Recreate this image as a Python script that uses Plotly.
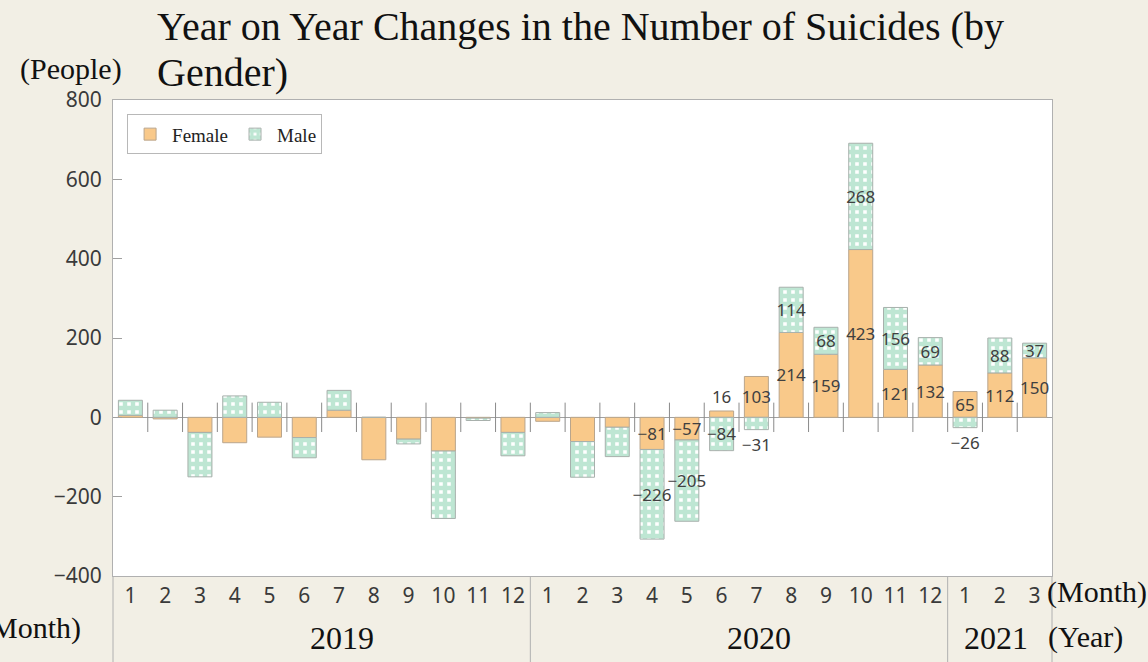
import plotly.graph_objects as go

# ---- data ----
months = [1, 2, 3, 4, 5, 6, 7, 8, 9, 10, 11, 12,
          1, 2, 3, 4, 5, 6, 7, 8, 9, 10, 11, 12,
          1, 2, 3]
years = ["2019"] * 12 + ["2020"] * 12 + ["2021"] * 3
female = [5, -4, -38, -64, -50, -51, 18, -107, -55, -85, -2, -38,
          -10, -61, -25, -81, -57, 16, 103, 214, 159, 423, 121, 132,
          65, 112, 150]
male = [38, 18, -112, 54, 38, -51, 50, 0, -12, -170, -6, -59,
        12, -90, -74, -226, -205, -84, -31, 114, 68, 268, 156, 69,
        -26, 88, 37]
first_labeled = 15  # labels shown from April 2020 onward
y_ticks = [800, 600, 400, 200, 0, -200, -400]

n = len(months)
xs = list(range(n))

SERIF = "Liberation Serif, Times New Roman, serif"
SANS = "Noto Sans, DejaVu Sans, sans-serif"
ORANGE = "#f9c98a"
GREEN = "#7dcea8"
BG = "#f2efe5"
PLOT_H = 476  # px height of plot area (for paper-coordinate helpers)


def fmt(v):
    return ("\u2212" + str(abs(v))) if v < 0 else str(v)


def texts(vals):
    return [fmt(v) if i >= first_labeled else "" for i, v in enumerate(vals)]


def positions(vals):
    return ["outside" if abs(v) < 35 else "inside" for v in vals]


def py(pix):
    """paper y from pixel row (plot top at 100px)"""
    return 1 + (100 - pix) / PLOT_H


def px(pix):
    """paper x from pixel column (plot left at 113px, width 939px)"""
    return (pix - 113) / 939


label_font = dict(family=SANS, size=17, color="#404040")

fig = go.Figure()
fig.add_trace(go.Bar(
    x=xs, y=female, name="Female",
    marker=dict(color=ORANGE, line=dict(color="#b9a58c", width=1)),
    text=texts(female), textposition=positions(female),
    insidetextanchor="middle", textangle=0, constraintext="none",
    cliponaxis=False,
    textfont=label_font, insidetextfont=label_font, outsidetextfont=label_font,
    hoverinfo="skip",
))
fig.add_trace(go.Bar(
    x=xs, y=male, name="Male",
    marker=dict(color="white", line=dict(color="#a8b0ac", width=1),
                pattern=dict(shape="+", fgcolor=GREEN, bgcolor="white",
                             size=8, solidity=0.8)),
    text=texts(male), textposition=positions(male),
    insidetextanchor="middle", textangle=0, constraintext="none",
    cliponaxis=False,
    textfont=label_font, insidetextfont=label_font, outsidetextfont=label_font,
    hoverinfo="skip",
))
# small separators crossing the zero line between months
fig.add_trace(go.Scatter(
    x=[i + 0.5 for i in range(n - 1)], y=[0] * (n - 1), mode="markers",
    marker=dict(symbol="line-ns", size=21, line=dict(color="#8a8a8a", width=1)),
    showlegend=False, hoverinfo="skip",
))

fig.update_layout(
    width=1148, height=662,
    paper_bgcolor=BG, plot_bgcolor="white",
    margin=dict(l=113, r=96, t=100, b=86),
    barmode="relative", bargap=0.31,
    showlegend=True,
    legend=dict(orientation="h", x=0.015, y=0.97, xanchor="left", yanchor="top",
                bgcolor="white", bordercolor="#b8b8b8", borderwidth=1,
                font=dict(family=SERIF, size=19, color="#222"),
                itemwidth=34, traceorder="normal"),
)
fig.update_xaxes(
    range=[-0.5, n - 0.5], tickvals=xs, ticktext=[str(m) for m in months],
    showgrid=False, zeroline=False, ticks="",
    showline=True, mirror=True, linecolor="#b0b0b0", linewidth=1,
    tickfont=dict(family=SANS, size=21, color="#3a3a3a"),
    ticklabelstandoff=1,
)
fig.update_yaxes(
    range=[-400, 800], tickvals=y_ticks,
    ticktext=[fmt(v) for v in y_ticks],
    showgrid=False, zeroline=True, zerolinecolor="#a0a0a0", zerolinewidth=1,
    ticks="inside", ticklen=9, tickcolor="#a0a0a0",
    showline=True, mirror=True, linecolor="#b0b0b0", linewidth=1,
    tickfont=dict(family=SANS, size=21, color="#3a3a3a"),
    ticklabelstandoff=6,
)

# year separators below the plot
bottom = -86 / PLOT_H
bounds = [0]
for i in range(1, n):
    if years[i] != years[i - 1]:
        bounds.append(i)
bounds.append(n)
for b in bounds:
    fig.add_shape(type="line", xref="paper", yref="paper",
                  x0=b / n, x1=b / n, y0=0, y1=bottom,
                  line=dict(color="#b0b0b0", width=1))

# year labels
for k in range(len(bounds) - 1):
    a, b = bounds[k], bounds[k + 1]
    shift = 20 if (b - a) > 6 else -4
    fig.add_annotation(x=(a + b - 1) / 2, y=py(638), xref="x", yref="paper",
                       yanchor="middle", text=years[a], showarrow=False,
                       xshift=shift,
                       font=dict(family=SERIF, size=32, color="#111"))

ann_font = dict(family=SERIF, size=30, color="#111")
fig.add_annotation(x=px(1045), y=py(592), xref="paper", yref="paper",
                   xanchor="left", yanchor="middle", text="(Month)",
                   showarrow=False, font=ann_font)
fig.add_annotation(x=px(1046), y=py(637), xref="paper", yref="paper",
                   xanchor="left", yanchor="middle", text="(Year)",
                   showarrow=False, font=ann_font)
fig.add_annotation(x=px(83), y=py(628), xref="paper", yref="paper",
                   xanchor="right", yanchor="middle", text="(Month)",
                   showarrow=False, font=ann_font)
fig.add_annotation(x=px(71), y=py(69), xref="paper", yref="paper",
                   xanchor="center", yanchor="middle", text="(People)",
                   showarrow=False, font=dict(family=SERIF, size=30, color="#111"))
title_font = dict(family=SERIF, size=40, color="#111")
fig.add_annotation(x=px(155), y=py(26), xref="paper", yref="paper",
                   xanchor="left", yanchor="middle",
                   text="Year on Year Changes in the Number of Suicides (by",
                   showarrow=False, font=title_font)
fig.add_annotation(x=px(155), y=py(73), xref="paper", yref="paper",
                   xanchor="left", yanchor="middle", text="Gender)",
                   showarrow=False, font=title_font)

fig.write_html(
    "out.html",
    config={"displayModeBar": False},
    post_script="document.body.style.margin='0';"
                "document.body.style.background='#f2efe5';",
)
